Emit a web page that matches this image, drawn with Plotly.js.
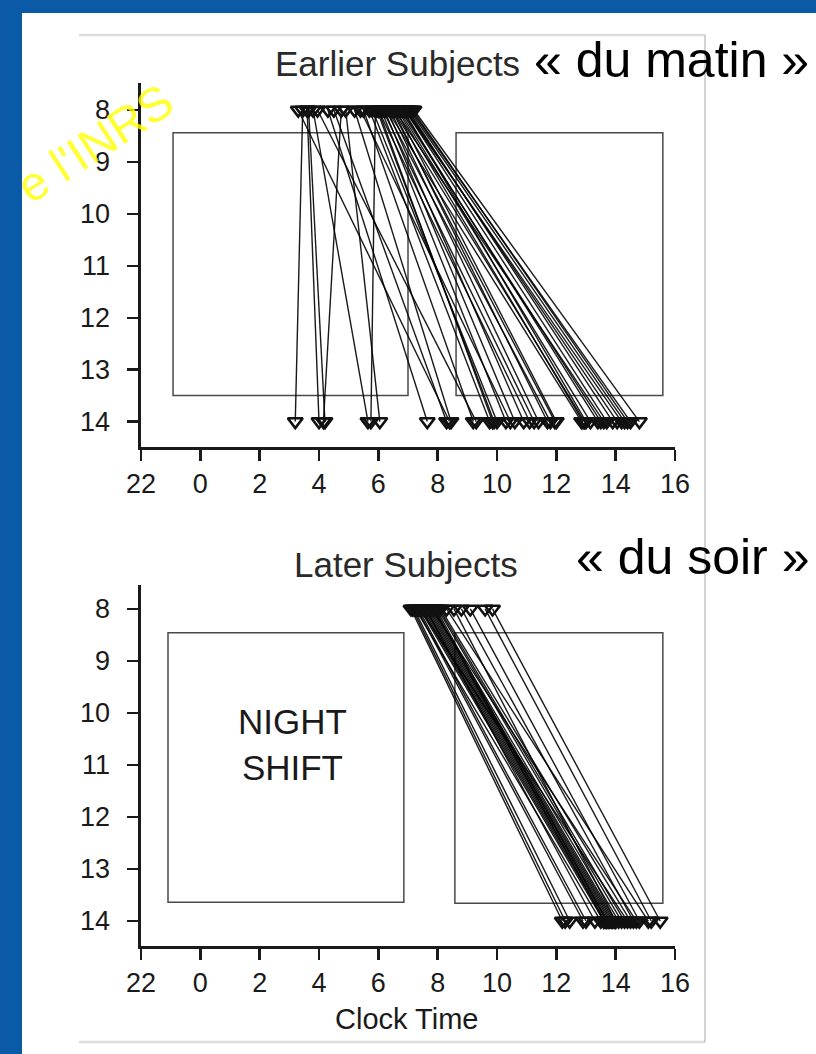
<!DOCTYPE html>
<html>
<head>
<meta charset="utf-8">
<script src="https://cdn.plot.ly/plotly-3.0.1.min.js"></script>
<style>
  html, body { margin: 0; padding: 0; background: #0b5aa8; }
  #chart { width: 816px; height: 1054px; }
</style>
</head>
<body>
<div id="chart"></div>
<script>
// ---------- data ----------
const xTickVals = [-2, 0, 2, 4, 6, 8, 10, 12, 14, 16];
const xTickText = ['22', '0', '2', '4', '6', '8', '10', '12', '14', '16'];
const yTickVals = [8, 9, 10, 11, 12, 13, 14];

// Earlier subjects: clock time at measurement 8 and measurement 14
const earlyStart = [3.45, 3.6, 3.65, 4.75, 3.8, 5.9, 4.9, 4.3, 4.5, 5.2, 5.5, 5.7, 6.0, 5.8, 6.1, 6.2,
                    6.3, 6.0, 6.4, 6.5, 6.45, 6.6, 6.3, 6.5, 6.7, 6.8, 6.75, 6.9, 7.0, 6.95, 7.05, 7.1,
                    7.2, 6.85, 6.65, 5.4, 6.15, 3.3, 3.95, 6.55, 6.25, 6.9, 7.15, 5.95];
const earlyEnd   = [3.2, 4.0, 4.2, 4.15, 5.65, 5.75, 6.05, 7.65, 8.3, 8.45, 9.2, 9.75, 9.85, 10.0, 10.3, 10.6,
                    10.9, 11.1, 11.4, 11.7, 11.95, 12.0, 12.85, 12.95, 13.15, 13.4, 13.5, 13.7, 13.9, 14.05, 14.3, 14.5,
                    14.8, 13.0, 12.9, 10.45, 11.25, 8.4, 9.3, 13.6, 11.8, 14.2, 14.4, 9.9];

// Later subjects
const lateStart = [7.1, 7.15, 7.2, 7.3, 7.35, 7.4, 7.45, 7.5, 7.55, 7.6, 7.65, 7.7, 7.75, 7.8, 7.85,
                   7.9, 7.95, 8.0, 8.05, 8.1, 8.55, 8.8, 9.1, 9.6, 9.85, 8.3, 7.6, 7.25, 7.4, 7.8];
const lateEnd   = [12.2, 12.3, 12.45, 12.9, 13.0, 13.6, 13.65, 13.7, 13.75, 13.8, 13.85, 13.9, 13.95, 14.0, 14.1,
                   13.6, 13.7, 14.2, 14.3, 14.5, 14.0, 14.6, 14.8, 15.2, 15.5, 15.1, 13.3, 13.5, 14.4, 14.7];

// boxes [x0, x1, y0, y1] (clock hours, measurement index)
const topNightBox = [-0.92, 7.0, 8.44, 13.5];
const topDayBox   = [8.62, 15.59, 8.44, 13.5];
const botNightBox = [-1.09, 6.86, 8.46, 13.64];
const botDayBox   = [8.58, 15.59, 8.46, 13.66];

const titles = ['Earlier Subjects', 'Later Subjects'];
const tags = ['« du matin »', '« du soir »'];
const boxLabel = 'NIGHT<br>SHIFT';
const xTitle = 'Clock Time';
const watermark = "e l'INRS";

// ---------- helpers ----------
const W = 816, H = 1054;
const px = v => v / W;
const py = v => 1 - v / H;

function segs(starts, ends) {
  const x = [], y = [];
  starts.forEach((s, i) => { x.push(s, ends[i], null); y.push(8, 14, null); });
  return {x, y};
}
function marks(starts, ends) {
  return {x: starts.concat(ends), y: starts.map(() => 8).concat(ends.map(() => 14))};
}

const FONT = 'Liberation Sans, Arial, Helvetica, sans-serif';
const lineStyle = {color: 'rgba(0,0,0,0.9)', width: 1.4};
const markerStyle = {symbol: 'triangle-down-open', size: 13, color: '#111', line: {width: 2.6, color: '#111'}};

const e1 = segs(earlyStart, earlyEnd), m1 = marks(earlyStart, earlyEnd);
const e2 = segs(lateStart, lateEnd), m2 = marks(lateStart, lateEnd);

const traces = [
  {x: e1.x, y: e1.y, mode: 'lines', line: lineStyle, xaxis: 'x', yaxis: 'y', hoverinfo: 'skip', connectgaps: false},
  {x: m1.x, y: m1.y, mode: 'markers', marker: markerStyle, xaxis: 'x', yaxis: 'y'},
  {x: e2.x, y: e2.y, mode: 'lines', line: lineStyle, xaxis: 'x2', yaxis: 'y2', hoverinfo: 'skip', connectgaps: false},
  {x: m2.x, y: m2.y, mode: 'markers', marker: markerStyle, xaxis: 'x2', yaxis: 'y2'}
];

const axisCommon = {
  showgrid: false, zeroline: false, showline: true, linewidth: 2.6, linecolor: '#1a1a1a',
  ticks: 'outside', ticklen: 11, tickwidth: 2.4, tickcolor: '#1a1a1a',
  tickfont: {family: FONT, size: 27, color: '#1a1a1a'}, fixedrange: true
};
const xDomain = [px(141), px(675)];
const xAxis = Object.assign({}, axisCommon, {
  domain: xDomain, range: [-2, 16], tickmode: 'array', tickvals: xTickVals, ticktext: xTickText,
  ticklabelstandoff: 0
});
const yAxis = Object.assign({}, axisCommon, {
  tickmode: 'array', tickvals: yTickVals, ticktext: yTickVals.map(String), ticklabelstandoff: 12
});

function rect(box, xr, yr) {
  return {type: 'rect', xref: xr, yref: yr, x0: box[0], x1: box[1], y0: box[2], y1: box[3],
          line: {color: '#4a4a4a', width: 1.5}, fillcolor: 'rgba(0,0,0,0)', layer: 'below'};
}

const shapes = [
  // white page on blue frame
  {type: 'rect', xref: 'paper', yref: 'paper', x0: px(22), x1: 1, y0: 0, y1: py(13),
   fillcolor: '#ffffff', line: {width: 0}, layer: 'below'},
  // light grey frame
  {type: 'line', xref: 'paper', yref: 'paper', x0: px(79), x1: px(705), y0: py(35), y1: py(35),
   line: {color: '#dcdcdc', width: 2.5}, layer: 'below'},
  {type: 'line', xref: 'paper', yref: 'paper', x0: px(79), x1: px(705), y0: py(1042), y1: py(1042),
   line: {color: '#dcdcdc', width: 2.5}, layer: 'below'},
  {type: 'line', xref: 'paper', yref: 'paper', x0: px(705), x1: px(705), y0: py(35), y1: py(1042),
   line: {color: '#a8a8a8', width: 1}, layer: 'above'},
  rect(topNightBox, 'x', 'y'), rect(topDayBox, 'x', 'y'),
  rect(botNightBox, 'x2', 'y2'), rect(botDayBox, 'x2', 'y2')
];

const ann = (text, x, y, size, color, extra) => Object.assign({
  text, xref: 'paper', yref: 'paper', x: px(x), y: py(y), xanchor: 'center', yanchor: 'middle',
  showarrow: false, font: {family: FONT, size, color}
}, extra || {});

const annotations = [
  ann(titles[0], 397, 64, 35, '#2a2a2a'),
  ann(tags[0], 671, 60, 50, '#000'),
  ann(titles[1], 406, 564, 35, '#2a2a2a'),
  ann(tags[1], 692, 557, 50, '#000'),
  ann(boxLabel, 292, 744, 35, '#1a1a1a'),
  ann(xTitle, 406, 1019, 29, '#1a1a1a'),
  ann(watermark, 95, 144, 48, 'rgba(255,255,0,0.8)', {textangle: -33})
];

const layout = {
  width: W, height: H, margin: {l: 0, r: 0, t: 0, b: 0},
  paper_bgcolor: '#0b5aa8', plot_bgcolor: 'rgba(0,0,0,0)',
  showlegend: false,
  xaxis: Object.assign({}, xAxis, {anchor: 'y'}),
  yaxis: Object.assign({}, yAxis, {domain: [py(447), py(83)], range: [14.49, 7.48], anchor: 'x'}),
  xaxis2: Object.assign({}, xAxis, {anchor: 'y2'}),
  yaxis2: Object.assign({}, yAxis, {domain: [py(946), py(585)], range: [14.48, 7.54], anchor: 'x2'}),
  shapes, annotations
};

Plotly.newPlot('chart', traces, layout, {staticPlot: true, displayModeBar: false});
</script>
</body>
</html>
